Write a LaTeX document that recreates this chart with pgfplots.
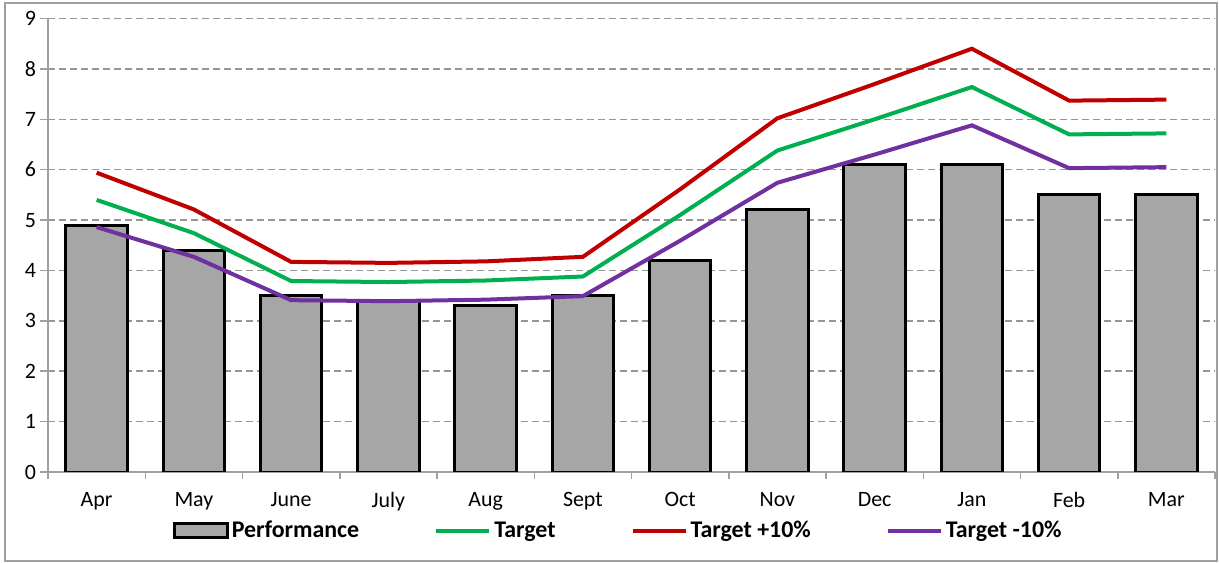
\documentclass[border=0pt]{standalone}
\usepackage{fontspec}
\setmainfont{Carlito}
\usepackage{pgfplots}
\pgfplotsset{compat=1.18}

\definecolor{barfill}{HTML}{A6A6A6}
\definecolor{tgreen}{HTML}{00B050}
\definecolor{tred}{HTML}{C00000}
\definecolor{tpurple}{HTML}{7030A0}
\definecolor{axgray}{HTML}{A0A0A0}
\definecolor{gridgray}{HTML}{969696}

\pgfplotsset{
  barlegend/.style={legend image code/.code={\draw[##1] (0bp,-3.5bp) rectangle (26.5bp,3.5bp);}},
  linelegend/.style={legend image code/.code={\draw[##1] (0bp,0bp) -- (26.5bp,0bp);}},
}

\begin{document}
\begin{tikzpicture}
\begin{axis}[
  scale only axis, width=583.5bp, height=226.75bp,
  xmin=-0.5, xmax=11.5, ymin=0, ymax=9,
  axis x line*=bottom, axis y line*=left,
  axis line style={axgray, line width=0.75bp},
  tick align=outside,
  xtick={0,...,11},
  xticklabels={Apr,May,June,July,Aug,Sept,Oct,Nov,Dec,Jan,Feb,Mar},
  major x tick style={draw=none},
  minor xtick={-0.5,0.5,...,11.5},
  minor x tick style={axgray, line width=0.75bp},
  minor tick length=3.5bp,
  ytick={0,...,9},
  y tick style={axgray, line width=0.75bp},
  major tick length=4bp,
  ymajorgrids,
  grid style={gridgray, line width=0.75bp, dash pattern=on 3.5bp off 2bp},
  tick label style={font=\fontsize{11}{13}\selectfont},
  xticklabel style={yshift=-2.5bp},
  yticklabel style={xshift=1.5bp},
  /pgf/number format/assume math mode=true,
  legend columns=4,
  legend style={at={(0.489,-0.13)}, anchor=center, draw=none, fill=none,
    font=\bfseries\fontsize{12}{14}\selectfont,
    nodes={inner sep=1.5bp},
    /tikz/every even column/.append style={column sep=36bp}},
]
\addplot[ybar, bar width=0.63, fill=barfill, draw=black, line width=1.5bp, barlegend]
  coordinates {(0,4.9) (1,4.4) (2,3.5) (3,3.4) (4,3.3) (5,3.5) (6,4.2) (7,5.2) (8,6.1) (9,6.1) (10,5.5) (11,5.5)};
\addlegendentry{Performance}
\addplot[tgreen, line width=2bp, no marks, linelegend]
  coordinates {(0,5.40) (1,4.74) (2,3.79) (3,3.77) (4,3.80) (5,3.88) (6,5.10) (7,6.38) (8,7.00) (9,7.64) (10,6.70) (11,6.72)};
\addlegendentry{Target}
\addplot[tred, line width=2bp, no marks, linelegend]
  coordinates {(0,5.94) (1,5.21) (2,4.17) (3,4.15) (4,4.18) (5,4.27) (6,5.61) (7,7.02) (8,7.70) (9,8.40) (10,7.37) (11,7.39)};
\addlegendentry{Target +10\%}
\addplot[tpurple, line width=2bp, no marks, linelegend]
  coordinates {(0,4.86) (1,4.27) (2,3.41) (3,3.39) (4,3.42) (5,3.49) (6,4.59) (7,5.74) (8,6.30) (9,6.88) (10,6.03) (11,6.05)};
\addlegendentry{Target -10\%}
\end{axis}
\draw[axgray, line width=0.75bp] (-21.5bp,-44.5bp) rectangle (584.5bp,234.5bp);
\pgfresetboundingbox
\path[use as bounding box] (-24bp,-45.5bp) rectangle (585.5bp,236bp);
\end{tikzpicture}
\end{document}
